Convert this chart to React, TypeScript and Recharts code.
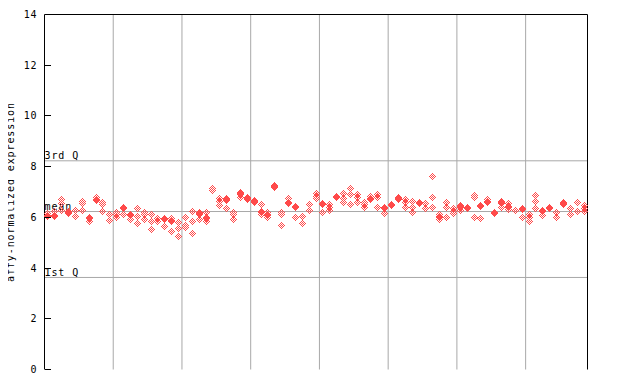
import React from 'react';
import { ScatterChart, Scatter, XAxis, YAxis, ReferenceLine } from 'recharts';

// Expression values per sample, grouped in blocks of ten samples
const group1 = [
  [6.03, 6.07, 6.15], [6.04, 6.08, 6.25], [6.69, 6.56, 6.27], [6.15, 6.19, 6.25], [6.27, 6.03],
  [6.64, 6.55, 6.27], [5.97, 6.01, 5.85], [6.77, 6.65, 6.69], [6.6, 6.49, 6.23], [6.1, 5.88],
];
const group2 = [
  [6.18, 6.1, 5.98], [6.4, 6.33, 6.1], [6.07, 6.11, 5.9], [6.34, 6.03, 5.76], [6.18, 6.1, 5.93],
  [6.1, 5.82, 5.51], [5.94, 5.84], [5.92, 5.96, 5.64], [5.97, 5.84, 5.88, 5.43], [5.81, 5.56, 5.26],
];
const group3 = [
  [5.98, 5.68, 5.6], [6.22, 5.84, 5.35], [6.2, 6.13, 6.17, 5.92], [6.18, 5.94, 5.98, 5.84], [7.15, 7.06],
  [6.73, 6.64, 6.47], [6.76, 6.68, 6.72, 6.34], [6.2, 6.11, 5.92], [6.99, 6.89, 6.93, 6.8], [6.77, 6.72, 6.76],
];
const group4 = [
  [6.66, 6.6, 6.64], [6.5, 6.2, 6.24, 6.11], [6.2, 6.07, 6.11, 6.0], [7.26, 7.16, 7.2], [6.2, 6.1, 5.67],
  [6.73, 6.6, 6.53], [6.4, 6.44, 6.01], [6.03, 5.74], [6.5, 6.26], [6.93, 6.84, 6.74],
];
const group5 = [
  [6.51, 6.55, 6.2], [6.5, 6.4, 6.26], [6.78, 6.82], [6.93, 6.73, 6.57], [7.13, 6.89, 6.5],
  [6.89, 6.8, 6.57], [6.6, 6.5, 6.4], [6.82, 6.7, 6.74], [6.9, 6.8, 6.4], [6.36, 6.4, 6.14],
];
const group6 = [
  [6.47, 6.51], [6.77, 6.7, 6.74], [6.7, 6.57, 6.4], [6.63, 6.4, 6.18], [6.6, 6.53, 6.57],
  [6.53, 6.36], [7.61, 6.77, 6.37], [6.1, 5.98, 6.02, 5.9], [6.6, 6.37, 5.98], [6.34, 6.25, 6.14],
];
const group7 = [
  [6.47, 6.37, 6.41, 6.28], [6.34, 6.38], [6.86, 6.77, 5.98], [6.44, 6.48, 5.94], [6.7, 6.57, 6.61],
  [6.14, 6.18], [6.63, 6.53, 6.57, 6.4], [6.53, 6.4, 6.44, 6.3], [6.28], [6.3, 6.34, 6.01],
];
const group8 = [
  [6.1, 6.01, 5.85], [6.86, 6.63, 6.34], [6.24, 6.28, 6.07], [6.36, 6.4], [6.18, 6.01],
  [6.6, 6.5, 6.54], [6.34, 6.1], [6.57, 6.23], [6.47, 6.36, 6.24],
];

const yTicks = [0, 2, 4, 6, 8, 10, 12, 14];
const groupBoundaries = [10, 20, 30, 40, 50, 60, 70];
const statLabels = ['3rd Q', 'mean', '1st Q'];
const statValues = [8.23, 6.23, 3.63];
const yAxisTitle = 'affy-normalized expression';

const groups = [group1, group2, group3, group4, group5, group6, group7, group8];
const samples = groups.flat();
const sampleCount = samples.length;
const points = samples.flatMap((vals, i) => vals.map((v) => ({ x: i + 0.5, y: v })));

const RED = '#ff4a4a';
const GRID = '#a8a8a8';
const FONT = '"DejaVu Sans Mono", monospace';
const FS = 10;
const LS = 0.9;

const CheckerDiamond = (props: any) => {
  const { cx, cy } = props;
  if (cx == null || cy == null) return null;
  const px = Math.floor(cx);
  const py = Math.floor(cy);
  const rects: any[] = [];
  for (let dy = -3; dy <= 3; dy++) {
    for (let dx = -3; dx <= 3; dx++) {
      if (Math.abs(dx) + Math.abs(dy) <= 3 && Math.abs(dx + dy) % 2 === 1) {
        rects.push(<rect key={dx + '_' + dy} x={px + dx} y={py + dy} width={1} height={1} fill={RED} />);
      }
    }
  }
  return <g shapeRendering="crispEdges">{rects}</g>;
};

const LeftTick = (props: any) => {
  const { x, y, payload } = props;
  return (
    <g>
      <line x1={x} x2={x + 6} y1={y} y2={y} stroke="#000" shapeRendering="crispEdges" />
      <text x={x - 7} y={y} dy={3.5} textAnchor="end" fontFamily={FONT} fontSize={FS} letterSpacing={LS} fill="#000">
        {payload.value}
      </text>
    </g>
  );
};

const RightTick = (props: any) => {
  const { x, y } = props;
  return <line x1={x} x2={x - 6} y1={y} y2={y} stroke="#000" shapeRendering="crispEdges" />;
};

const makeStatLabel = (text: string) => (props: any) => {
  const vb = props.viewBox || {};
  return (
    <text x={vb.x} y={vb.y - 1.5} fontFamily={FONT} fontSize={FS} letterSpacing={LS} fill="#000">
      {text}
    </text>
  );
};

const AxisTitle = (props: any) => {
  const vb = props.viewBox || {};
  const cy = vb.y + vb.height / 2;
  const x = 14;
  return (
    <text
      x={x}
      y={cy}
      transform={`rotate(-90, ${x}, ${cy})`}
      textAnchor="middle"
      fontFamily={FONT}
      fontSize={FS}
      letterSpacing={LS}
      fill="#000"
    >
      {yAxisTitle}
    </text>
  );
};

export default function App() {
  return (
    <div style={{ position: 'relative', left: -8, top: -8, width: 640, height: 384, background: '#fff' }}>
      <ScatterChart width={640} height={384} margin={{ top: 14.5, right: 52, bottom: 14.5, left: 0 }}>
        <XAxis
          dataKey="x"
          type="number"
          domain={[0, sampleCount]}
          ticks={groupBoundaries}
          tick={false}
          tickLine={false}
          axisLine={{ stroke: '#000' }}
          height={0}
        />
        <YAxis
          yAxisId="left"
          dataKey="y"
          type="number"
          domain={[0, 14]}
          ticks={yTicks}
          width={44.5}
          tickSize={0}
          tickMargin={0}
          tick={<LeftTick />}
          tickLine={false}
          axisLine={{ stroke: '#000' }}
          interval={0}
          label={<AxisTitle />}
        />
        <YAxis
          yAxisId="right"
          orientation="right"
          type="number"
          domain={[0, 14]}
          ticks={yTicks}
          width={0.5}
          tickSize={0}
          tickMargin={0}
          tick={<RightTick />}
          tickLine={false}
          axisLine={{ stroke: '#000' }}
          interval={0}
        />
        {groupBoundaries.map((b) => (
          <ReferenceLine key={'v' + b} x={b} yAxisId="left" stroke={GRID} strokeWidth={1} />
        ))}
        {statValues.map((v, i) => (
          <ReferenceLine
            key={'s' + i}
            y={v}
            yAxisId="left"
            stroke={GRID}
            strokeWidth={1}
            label={makeStatLabel(statLabels[i])}
          />
        ))}
        <ReferenceLine y={14} yAxisId="left" stroke="#000" strokeWidth={1} />
        <Scatter
          data={points}
          yAxisId="left"
          fill={RED}
          shape={<CheckerDiamond />}
          isAnimationActive={false}
        />
      </ScatterChart>
    </div>
  );
}
